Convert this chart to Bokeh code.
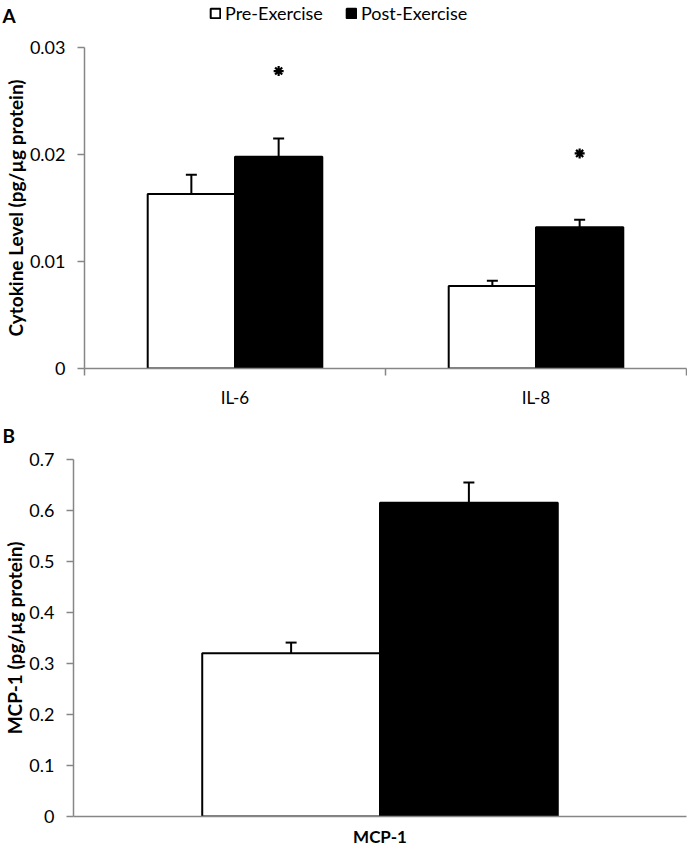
import numpy as np
from bokeh.plotting import figure
from bokeh.layouts import column
from bokeh.models import (ColumnDataSource, FixedTicker, NumeralTickFormatter, Whisker,
                          TeeHead, Legend, LegendItem, Label, Range1d)
from bokeh.embed import file_html
from bokeh.resources import INLINE

# ---------------- data ----------------
series_names = ["Pre-Exercise", "Post-Exercise"]

cytokines = ["IL-6", "IL-8"]
cyto_pre = [0.0163, 0.0077]
cyto_post = [0.0198, 0.0132]
cyto_pre_err = [0.0018, 0.0005]
cyto_post_err = [0.0017, 0.0007]
cyto_sig_y = [0.0278, 0.0201]
cyto_yticks = [0, 0.01, 0.02, 0.03]

mcp = ["MCP-1"]
mcp_pre = [0.320]
mcp_post = [0.615]
mcp_pre_err = [0.021]
mcp_post_err = [0.040]
mcp_sig_y = [0.712]
mcp_yticks = [0, 0.1, 0.2, 0.3, 0.4, 0.5, 0.6, 0.7]

FONT = "Lato"
GRAY = "#868686"
BAR_W = 0.29
WIDTH = 687

PRE_STYLE = dict(fill_color="white", line_color="black", line_width=2)
POST_STYLE = dict(fill_color="black", line_color="black", line_width=2)


def make_header(height, letter, letter_y, legend):
    h = figure(width=WIDTH, height=height, x_range=Range1d(0, 1), y_range=Range1d(0, 1),
               output_backend="svg", toolbar_location=None, x_axis_location=None,
               y_axis_location=None, min_border=0, frame_align=False)
    h.grid.visible = False
    h.outline_line_color = None
    h.add_layout(Label(x=2, y=letter_y, x_units="screen", y_units="screen", text=letter,
                       text_font=FONT, text_font_size="19px", text_font_style="bold",
                       text_baseline="middle", text_align="left", text_color="black"))
    if legend:
        # legend proxies: no drawable points (NaN), only their styles are used
        r_pre = h.vbar(x=np.array([np.nan]), top=np.array([np.nan]), width=0.1, **PRE_STYLE)
        r_post = h.vbar(x=np.array([np.nan]), top=np.array([np.nan]), width=0.1, **POST_STYLE)
        lg = Legend(items=[LegendItem(label=series_names[0], renderers=[r_pre]),
                           LegendItem(label=series_names[1], renderers=[r_post])],
                    orientation="horizontal", location=(209, height - 24),
                    glyph_width=12, glyph_height=12, label_standoff=4, spacing=22,
                    padding=0, margin=0, border_line_color=None,
                    background_fill_alpha=0, label_text_font=FONT,
                    label_text_font_size="18px", label_text_color="black",
                    label_height=22)
        h.add_layout(lg, "center")
    return h


def make_panel(cats, pre, post, pre_err, post_err, sig, yticks, fmt, ylabel,
               height, border_left, border_top, border_bottom, cat_ticks, xlabel_bold,
               xlabel_standoff):
    p = figure(width=WIDTH, height=height, x_range=Range1d(0, len(cats)),
               y_range=Range1d(0, yticks[-1]), output_backend="svg", toolbar_location=None,
               min_border_left=border_left, min_border_right=1, min_border_top=border_top,
               min_border_bottom=border_bottom, frame_align=False)
    p.grid.visible = False
    p.outline_line_color = None

    centers = np.arange(len(cats)) + 0.5
    src_pre = ColumnDataSource(dict(x=centers - BAR_W / 2, top=pre,
                                    upper=np.add(pre, pre_err)))
    src_post = ColumnDataSource(dict(x=centers + BAR_W / 2, top=post,
                                     upper=np.add(post, post_err), sig=sig))

    p.vbar(x="x", top="top", width=BAR_W, source=src_pre, **PRE_STYLE)
    p.vbar(x="x", top="top", width=BAR_W, source=src_post, **POST_STYLE)

    for src in (src_pre, src_post):
        p.add_layout(Whisker(source=src, base="x", lower="top", upper="upper",
                             dimension="height", line_color="black", line_width=2,
                             lower_head=None,
                             upper_head=TeeHead(size=11, line_width=2, line_color="black")))

    p.scatter(x="x", y="sig", source=src_post, marker="asterisk", size=10,
              line_width=2.2, line_color="black")

    # x axis
    xa = p.xaxis[0]
    xa.ticker = FixedTicker(ticks=list(centers),
                            minor_ticks=list(range(len(cats) + 1)) if cat_ticks else [])
    xa.major_label_overrides = {float(c): n for c, n in zip(centers, cats)}
    xa.major_tick_line_color = None
    xa.major_tick_out = 0
    xa.major_tick_in = 0
    xa.minor_tick_in = 0
    xa.minor_tick_out = 7
    xa.minor_tick_line_color = GRAY if cat_ticks else None
    xa.minor_tick_line_width = 1.5
    xa.axis_line_color = GRAY
    xa.axis_line_width = 1.5
    xa.major_label_standoff = xlabel_standoff
    xa.major_label_text_font = FONT
    xa.major_label_text_font_size = "17px"
    xa.major_label_text_color = "black"
    xa.major_label_text_font_style = "bold" if xlabel_bold else "normal"

    # y axis
    ya = p.yaxis[0]
    ya.ticker = FixedTicker(ticks=yticks, minor_ticks=[])
    ya.formatter = NumeralTickFormatter(format=fmt)
    ya.major_tick_in = 0
    ya.major_tick_out = 7
    ya.major_tick_line_color = GRAY
    ya.major_tick_line_width = 1.5
    ya.axis_line_color = GRAY
    ya.axis_line_width = 1.5
    ya.major_label_standoff = 12
    ya.major_label_text_font = FONT
    ya.major_label_text_font_size = "18px"
    ya.major_label_text_color = "black"
    ya.axis_label = ylabel
    ya.axis_label_text_font = FONT
    ya.axis_label_text_font_size = "19px"
    ya.axis_label_text_font_style = "bold"
    ya.axis_label_text_color = "black"
    ya.axis_label_standoff = 0
    return p


hA = make_header(30, "A", 15, legend=True)
pA = make_panel(cytokines, cyto_pre, cyto_post, cyto_pre_err, cyto_post_err, cyto_sig_y,
                cyto_yticks, "0.[00]", "Cytokine Level (pg/µg protein)",
                height=390, border_left=81, border_top=17, border_bottom=52,
                cat_ticks=True, xlabel_bold=False, xlabel_standoff=11)
hB = make_header(26, "B", 11, legend=False)
pB = make_panel(mcp, mcp_pre, mcp_post, mcp_pre_err, mcp_post_err, mcp_sig_y,
                mcp_yticks, "0.[0]", "MCP-1 (pg/µg protein)",
                height=403, border_left=72, border_top=13, border_bottom=30,
                cat_ticks=False, xlabel_bold=True, xlabel_standoff=9)

layout = column(hA, pA, hB, pB, spacing=0)
open("out.html", "w").write(file_html(layout, INLINE))
